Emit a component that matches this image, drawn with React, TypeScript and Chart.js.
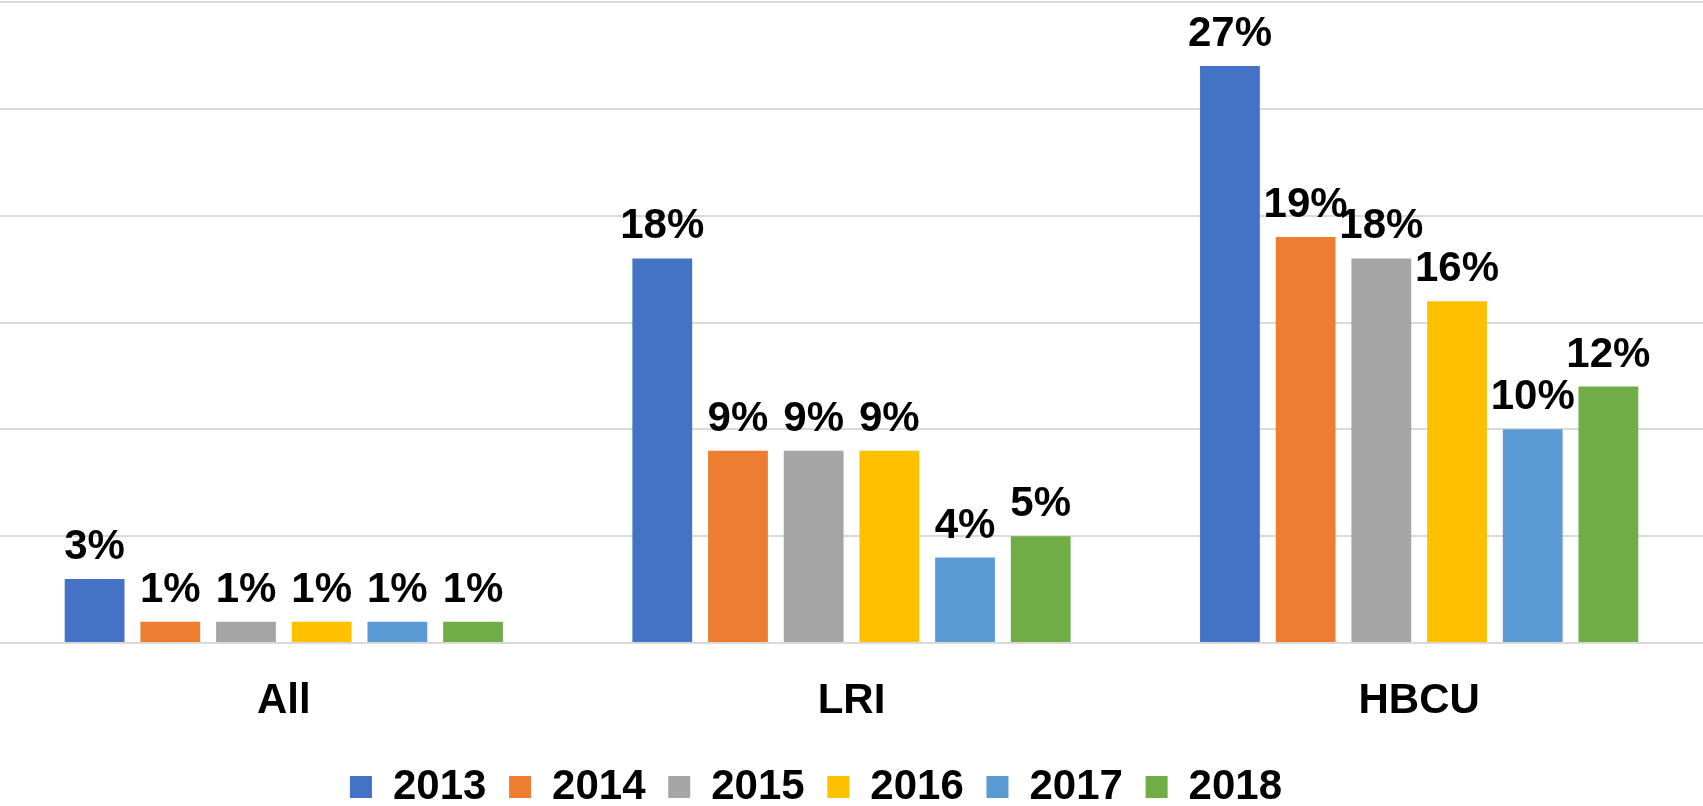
import React, { useEffect, useRef } from "react";
import { Chart, registerables } from "chart.js";

Chart.register(...registerables);

// ---- data ----
const categories = ["All", "LRI", "HBCU"];
const seriesLabels = ["2013", "2014", "2015", "2016", "2017", "2018"];
const values2013 = [3, 18, 27];
const values2014 = [1, 9, 19];
const values2015 = [1, 9, 18];
const values2016 = [1, 9, 16];
const values2017 = [1, 4, 10];
const values2018 = [1, 5, 12];
const seriesColors = ["#4472C4", "#ED7D31", "#A5A5A5", "#FFC000", "#5B9BD5", "#70AD47"];
const yMin = 0;
const yMax = 30;
const yStep = 5;

const seriesValues = [values2013, values2014, values2015, values2016, values2017, values2018];

const FONT = '"Liberation Sans", Arial, Helvetica, sans-serif';

const valueLabelPlugin = {
  id: "valueLabels",
  afterDatasetsDraw(chart: any) {
    const ctx = chart.ctx;
    ctx.save();
    ctx.font = `bold 42px ${FONT}`;
    ctx.fillStyle = "#000000";
    ctx.textAlign = "center";
    ctx.textBaseline = "alphabetic";
    chart.data.datasets.forEach((ds: any, di: number) => {
      const meta = chart.getDatasetMeta(di);
      meta.data.forEach((bar: any, i: number) => {
        ctx.fillText(`${ds.data[i]}%`, bar.x, bar.y - 20);
      });
    });
    ctx.restore();
  },
};

const legendShiftPlugin = {
  id: "legendShift",
  afterLayout(chart: any) {
    if (chart.legend) chart.legend.right -= 71;
  },
};

export default function App() {
  const ref = useRef<HTMLCanvasElement>(null);

  useEffect(() => {
    if (!ref.current) return;
    const chart = new Chart(ref.current, {
      type: "bar",
      data: {
        labels: categories,
        datasets: seriesLabels.map((label, i) => ({
          label,
          data: seriesValues[i],
          backgroundColor: seriesColors[i],
          borderWidth: 0,
          categoryPercentage: 0.8,
          barPercentage: 0.79,
        })),
      },
      options: {
        responsive: false,
        animation: false,
        devicePixelRatio: 1,
        layout: { padding: { top: 2, left: 0, right: 0, bottom: 0 } },
        plugins: {
          legend: {
            position: "bottom",
            labels: {
              boxWidth: 22,
              boxHeight: 22,
              padding: 22.7,
              color: "#000000",
              font: { size: 42, weight: "bold", family: FONT },
            },
          },
          tooltip: { enabled: false },
          title: { display: false },
        },
        scales: {
          x: {
            grid: { display: false },
            border: { display: false },
            ticks: {
              color: "#000000",
              padding: 25,
              font: { size: 42, weight: "bold", family: FONT },
            },
            afterFit: (s: any) => {
              s.height = 100.3;
            },
          },
          y: {
            min: yMin,
            max: yMax,
            ticks: { display: false, stepSize: yStep },
            grid: { color: "#d9d9d9", lineWidth: 2, drawTicks: false },
            border: { display: false },
            afterFit: (s: any) => {
              s.width = 0;
            },
          },
        },
      },
      plugins: [valueLabelPlugin, legendShiftPlugin],
    } as any);
    return () => chart.destroy();
  }, []);

  return (
    <div
      style={{
        position: "absolute",
        left: 0,
        top: 0,
        width: 1703,
        height: 806,
        overflow: "hidden",
        background: "#ffffff",
      }}
    >
      <canvas ref={ref} width={1703} height={818} style={{ display: "block", width: 1703, height: 818 }} />
    </div>
  );
}
